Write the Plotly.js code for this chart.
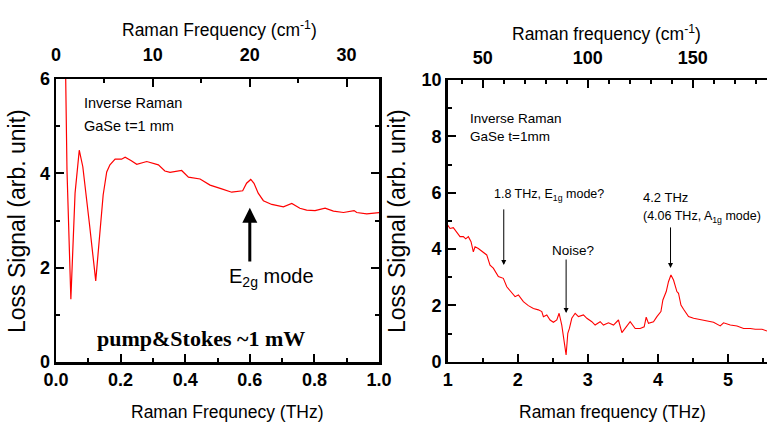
<!DOCTYPE html>
<html><head><meta charset="utf-8">
<script src="https://cdn.plot.ly/plotly-3.0.1.min.js"></script>
<style>html,body{margin:0;padding:0;background:#fff;} #chart{width:767px;height:429px;}</style>
</head><body><div id="chart"></div>
<script>
// ---- data ----
const leftFreqTHz = [0.029,0.034,0.046,0.059,0.072,0.083,0.104,0.123,0.146,0.157,
  0.167,0.183,0.203,0.214,0.232,0.250,0.281,0.317,0.337,0.353,
  0.389,0.410,0.446,0.477,0.513,0.544,0.578,0.590,0.603,0.613,
  0.626,0.642,0.668,0.688,0.704,0.730,0.755,0.776,0.802,0.833,
  0.859,0.890,0.923,0.931,0.962,1.003];
const leftSignal = [6.5,4.07,1.33,3.58,4.49,4.14,2.9,1.72,3.54,4.03,
  4.18,4.30,4.30,4.34,4.27,4.19,4.25,4.18,4.05,4.02,
  4.06,3.92,3.88,3.75,3.67,3.60,3.63,3.79,3.87,3.79,
  3.58,3.42,3.34,3.31,3.29,3.36,3.26,3.22,3.21,3.26,
  3.20,3.17,3.21,3.17,3.14,3.17];

const rightFreqTHz = [1.000,1.033,1.080,1.129,1.176,1.223,1.257,1.295,1.333,1.366,
  1.390,1.437,1.486,1.523,1.557,1.604,1.651,1.723,1.794,1.843,
  1.914,1.961,2.009,2.080,2.151,2.223,2.294,2.343,2.366,2.414,
  2.461,2.509,2.557,2.590,2.628,2.660,2.690,2.714,2.737,2.771,
  2.819,2.866,2.937,2.986,3.057,3.104,3.176,3.223,3.294,3.366,
  3.437,3.486,3.533,3.604,3.676,3.747,3.804,3.833,3.866,3.937,
  3.986,4.043,4.071,4.119,4.151,4.186,4.223,4.271,4.294,4.329,
  4.366,4.437,4.509,4.604,4.700,4.794,4.890,4.937,5.033,5.129,
  5.223,5.319,5.390,5.486,5.557];
const rightSignal = [4.85,4.73,4.76,4.61,4.44,4.44,4.36,4.44,4.26,3.90,
  4.08,4.02,3.93,3.85,3.79,3.43,3.32,3.02,2.96,2.66,
  2.43,2.31,2.37,2.13,1.99,1.89,1.84,1.78,1.60,1.66,
  1.48,1.40,1.48,1.72,1.30,0.77,0.24,1.01,1.18,1.54,
  1.72,1.60,1.66,1.54,1.42,1.30,1.42,1.30,1.38,1.30,
  1.48,1.03,1.18,1.42,1.18,1.18,1.24,1.58,1.36,1.42,
  1.60,1.78,2.19,2.49,2.84,3.08,2.90,2.49,2.43,2.01,
  1.86,1.60,1.54,1.50,1.46,1.40,1.27,1.38,1.30,1.27,
  1.18,1.18,1.15,1.15,1.09];

const THZ_TO_CM = 33.356;
const leftRangeTHz = [0, 1];
const rightRangeTHz = [1, 5.557];

// ---- layout helpers ----
const W = 767, H = 429;
const px = v => v / W, py = v => 1 - v / H;
const sans = 'Liberation Sans, Arial, sans-serif';
const tickFont = {family: sans, size: 18, weight: 'bold', color: '#000'};

function axisBase(extra) {
  return Object.assign({
    showline: true, linewidth: 2.5, linecolor: '#000',
    ticks: 'inside', ticklen: 8, tickwidth: 2, tickcolor: '#000',
    showgrid: false, zeroline: false, tickfont: tickFont, fixedrange: true
  }, extra);
}

const toCm = arr => arr.map(v => v * THZ_TO_CM);

const traces = [
  {x: leftFreqTHz, y: leftSignal, xaxis: 'x', yaxis: 'y', type: 'scatter', mode: 'lines',
   line: {color: '#ff0000', width: 1.2}, showlegend: false, hoverinfo: 'skip'},
  {x: rightFreqTHz, y: rightSignal, xaxis: 'x2', yaxis: 'y2', type: 'scatter', mode: 'lines',
   line: {color: '#ff0000', width: 1.1}, showlegend: false, hoverinfo: 'skip'},
  // same data on the cm^-1 axes (invisible) so the top axes are drawn
  {x: toCm(leftFreqTHz), y: leftSignal, xaxis: 'x3', yaxis: 'y', type: 'scatter', mode: 'lines',
   line: {color: 'rgba(0,0,0,0)', width: 0}, showlegend: false, hoverinfo: 'skip'},
  {x: toCm(rightFreqTHz), y: rightSignal, xaxis: 'x4', yaxis: 'y2', type: 'scatter', mode: 'lines',
   line: {color: 'rgba(0,0,0,0)', width: 0}, showlegend: false, hoverinfo: 'skip'}
];

const minorTick = (d) => ({dtick: d, ticks: 'inside', ticklen: 4, tickwidth: 2, tickcolor: '#000'});

const layout = {
  width: W, height: H, margin: {l: 0, r: 0, t: 0, b: 0},
  paper_bgcolor: '#fff', plot_bgcolor: 'rgba(0,0,0,0)', showlegend: false,
  xaxis: axisBase({domain: [px(56), px(379)], range: leftRangeTHz, anchor: 'y',
    tickmode: 'linear', tick0: 0, dtick: 0.2, tickformat: '.1f', minor: minorTick(0.1)}),
  yaxis: axisBase({domain: [py(362), py(79)], range: [0, 6], anchor: 'x',
    tickmode: 'linear', tick0: 0, dtick: 2, minor: minorTick(1), mirror: 'ticks'}),
  xaxis3: axisBase({overlaying: 'x', side: 'top', anchor: 'y',
    range: [leftRangeTHz[0] * THZ_TO_CM, leftRangeTHz[1] * THZ_TO_CM],
    tickmode: 'linear', tick0: 0, dtick: 10, minor: minorTick(5), ticklabelstandoff: 8}),
  xaxis2: axisBase({domain: [px(447.7), 1], range: rightRangeTHz, anchor: 'y2',
    tickmode: 'linear', tick0: 0, dtick: 1, minor: minorTick(0.5)}),
  yaxis2: axisBase({domain: [py(361.7), py(80)], range: [0, 10], anchor: 'x2',
    tickmode: 'linear', tick0: 0, dtick: 2, minor: minorTick(1)}),
  xaxis4: axisBase({overlaying: 'x2', side: 'top', anchor: 'y2',
    range: [rightRangeTHz[0] * THZ_TO_CM, rightRangeTHz[1] * THZ_TO_CM],
    tickmode: 'linear', tick0: 0, dtick: 50, minor: minorTick(10), ticklabelstandoff: 6}),
  annotations: []
};

function txt(text, x, y, opts) {
  return Object.assign({text: text, x: px(x), y: py(y), xref: 'paper', yref: 'paper',
    showarrow: false, xanchor: 'center', yanchor: 'middle',
    font: {family: sans, size: 14, color: '#000'}}, opts || {});
}
function arrow(xr, yr, x, yTip, yTail, w, head, size) {
  return {text: '', x: x, y: yTip, xref: xr, yref: yr, ax: x, ay: yTail, axref: xr, ayref: yr,
    showarrow: true, arrowhead: head, arrowwidth: w, arrowsize: size, arrowcolor: '#000'};
}

const A = layout.annotations;
const f = (size, extra) => Object.assign({family: sans, size: size, color: '#000'}, extra || {});
// left panel
A.push(txt('Raman Frequency (cm<sup>-1</sup>)', 219, 29, {font: f(17.5)}));
A.push(txt('Raman Frequnecy (THz)', 228, 412, {font: f(17.5)}));
A.push(txt('Loss Signal (arb. unit)', 17, 221, {textangle: -90, font: f(23)}));
A.push(txt('Inverse Raman', 82, 103, {xanchor: 'left', font: f(14.5)}));
A.push(txt('GaSe t=1 mm', 82, 126, {xanchor: 'left', font: f(14.5)}));
A.push(txt('pump&amp;Stokes ~1 mW', 201, 338, {font: {family: 'Liberation Serif, Times New Roman, serif', size: 22, weight: 'bold', color: '#000'}}));
A.push(txt('E<sub>2g</sub> mode', 227, 277, {xanchor: 'left', font: f(20)}));
A.push(arrow('x', 'y', 0.6, 3.27, 2.1, 3, 2, 1));
// right panel
A.push(txt('Raman frequency (cm<sup>-1</sup>)', 606, 33, {font: f(17.5)}));
A.push(txt('Raman frequency (THz)', 612, 412, {font: f(17.5)}));
A.push(txt('Loss Signal (arb. unit)', 397, 221, {textangle: -90, font: f(23)}));
A.push(txt('Inverse Raman', 468, 118, {xanchor: 'left', font: f(13.5)}));
A.push(txt('GaSe t=1mm', 468, 137, {xanchor: 'left', font: f(13.5)}));
A.push(txt('1.8 THz, E<sub>1g</sub> mode?', 492, 195, {xanchor: 'left', font: f(12.5)}));
A.push(txt('Noise?', 550, 250, {xanchor: 'left', font: f(13.5)}));
A.push(txt('4.2 THz', 641, 197, {xanchor: 'left', font: f(13)}));
A.push(txt('(4.06 THz, A<sub>1g</sub> mode)', 641, 217, {xanchor: 'left', font: f(12.5)}));
A.push(arrow('x2', 'y2', 1.8, 3.43, 5.46, 1, 2, 1));
A.push(arrow('x2', 'y2', 2.69, 1.73, 3.68, 1, 2, 1));
A.push(arrow('x2', 'y2', 4.18, 3.33, 4.82, 1, 2, 1));

Plotly.newPlot('chart', traces, layout, {staticPlot: true, displayModeBar: false});
</script></body></html>
